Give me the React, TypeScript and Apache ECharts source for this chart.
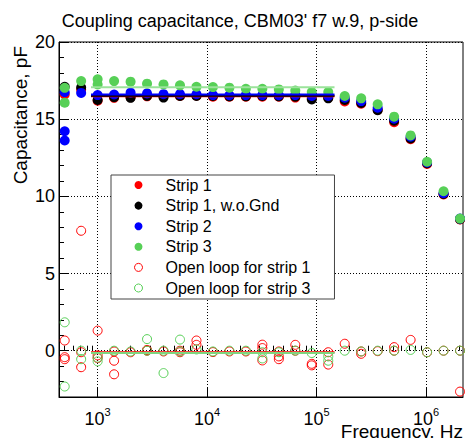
import React, { useEffect, useRef } from 'react';
import * as echarts from 'echarts';

// Frequencies (Hz) of the sweep
const freqs = [500, 707, 1000, 1414, 2000, 2828, 4000, 5657, 8000, 11314, 16000, 22627, 32000, 45255, 64000, 90510, 128000, 181019, 256000, 362039, 512000, 724077, 1024000, 1448155, 2048000];

// Capacitance, pF
const strip1 = [16.6, 16.9, 16.2, 16.38, 16.42, 16.48, 16.5, 16.5, 16.52, 16.45, 16.45, 16.45, 16.45, 16.45, 16.4, 16.35, 16.38, 16.15, 16.0, 15.6, 14.8, 13.7, 12.1, 10.12, 8.5];
const strip1Extra: [number, number][] = [];
const strip1NoGnd = [17.1, 17.05, 16.25, 16.42, 16.38, 16.5, 16.4, 16.5, 16.5, 16.5, 16.48, 16.48, 16.5, 16.48, 16.45, 16.28, 16.35, 16.25, 16.05, 15.58, 14.9, 13.75, 12.15, 10.15, 8.52];
const strip1NoGndExtra: [number, number][] = [];
const strip2 = [16.75, 16.7, 16.56, 16.6, 16.72, 16.67, 16.62, 16.62, 16.62, 16.56, 16.55, 16.56, 16.56, 16.55, 16.56, 16.5, 16.5, 16.39, 16.17, 15.74, 15.03, 13.86, 12.2, 10.2, 8.56];
const strip2Extra: [number, number][] = [[500, 14.22], [500, 13.62]];
const strip3 = [17.03, 17.47, 17.58, 17.47, 17.43, 17.3, 17.25, 17.19, 17.1, 17.08, 17.04, 16.97, 16.97, 16.93, 16.86, 16.76, 16.76, 16.5, 16.35, 15.96, 15.16, 13.95, 12.24, 10.33, 8.56];
const strip3Extra: [number, number][] = [[500, 16.07], [1000, 17.25]];

const openLoop1 = [0.66, -0.1, 1.3, -0.05, -0.1, 0.05, -0.05, 0.0, 0.66, -0.09, -0.05, -0.05, 0.39, -0.05, 0.38, -0.85, -0.1, 0.45, -0.05, -0.03, 0.23, 0.7, -0.1, 0.0, 0.0];
const openLoop1Extra: [number, number][] = [[500, -0.42], [500, -0.55], [707, -1.07], [707, 7.77], [1000, -0.3], [1000, -0.48], [1414, -0.65], [1414, -1.53], [2828, 0.0], [5657, -0.1], [8000, 0.38], [32000, 0.17], [32000, -0.63], [45255, -0.37], [45255, -0.55], [64000, 0.0], [90510, -0.95], [128000, -0.9], [256000, -0.2], [512000, 0.0], [2048000, -2.65]];
const openLoop3 = [1.84, 0.0, -0.69, 0.0, -0.05, 0.75, 0.0, 0.72, 0.08, -0.05, 0.0, 0.0, -0.1, -0.1, 0.0, -0.15, -0.37, 0.0, -0.05, 0.0, 0.0, 0.05, -0.1, 0.0, 0.0];
const openLoop3Extra: [number, number][] = [[500, -2.32], [707, -0.55], [1000, -0.45], [2828, 0.0], [4000, -1.45], [5657, -0.05], [32000, -0.5], [128000, -0.65]];

// Constant fits (pF) over the fit range (Hz)
const fitRange = [870, 146000];
const fitStrip1 = 16.48;
const fitStrip1NoGnd = 16.52;
const fitStrip2 = 16.6;
const fitStrip3 = 17.07;
const fitOpen1 = -0.1;
const fitOpen3 = -0.15;

const xDecades = [3, 4, 5, 6];
const yMajor = [0, 5, 10, 15, 20];
const yMinor = [-2, -1, 1, 2, 3, 4, 6, 7, 8, 9, 11, 12, 13, 14, 16, 17, 18, 19];
const freqMin = 443.6;
const freqMax = 2.18e6;

const FONT = 'Liberation Sans, Arial, Helvetica, sans-serif';
const lg = (f: number) => Math.log10(f);

function pts(main: number[], extra: [number, number][]) {
  return [
    ...freqs.map((f, i) => [lg(f), main[i]]),
    ...extra.map(([f, v]) => [lg(f), v]),
  ];
}

function fitLine(v: number) {
  return fitRange.map((f) => [lg(f), v]);
}

const xMinor: number[] = [];
for (let n = 2; n <= 6; n++) {
  for (let k = 2; k <= 9; k++) {
    const v = lg(k * Math.pow(10, n));
    if (v > lg(freqMin) && v < lg(freqMax)) xMinor.push(v);
  }
}

export default function App() {
  const ref = useRef<HTMLDivElement>(null);
  useEffect(() => {
    if (!ref.current) return;
    const chart = echarts.init(ref.current, null, { renderer: 'svg' });
    const RED = '#ff0000';
    const BLACK = '#000000';
    const BLUE = '#0000ff';
    const GREEN = '#57d057';
    const filled = (name: string, color: string, data: number[][]) => ({
      name, type: 'scatter', data, symbol: 'circle', symbolSize: 10,
      itemStyle: { color, opacity: 1 }, xAxisIndex: 0, yAxisIndex: 0,
    });
    const open = (name: string, color: string, data: number[][]) => ({
      name, type: 'scatter', data, symbol: 'circle', symbolSize: 9,
      itemStyle: { color: 'rgba(0,0,0,0)', borderColor: color, borderWidth: 1, opacity: 1 },
      xAxisIndex: 0, yAxisIndex: 0,
    });
    const fit = (name: string, color: string, v: number) => ({
      name, type: 'line', data: fitLine(v), showSymbol: false, symbol: 'none',
      lineStyle: { color, width: 2 }, xAxisIndex: 0, yAxisIndex: 0, silent: true,
    });
    const axisLineStyle = { color: '#000', width: 1 };
    const option: any = {
      animation: false,
      backgroundColor: '#fff',
      grid: { left: 59, right: 6, top: 42, bottom: 41, show: true, borderColor: '#000', borderWidth: 1, containLabel: false },
      xAxis: [
        {
          type: 'value', min: lg(freqMin), max: lg(freqMax), position: 'bottom',
          axisLine: { show: true, onZero: false, lineStyle: axisLineStyle },
          axisTick: { show: true, inside: true, length: 10, customValues: xDecades, lineStyle: axisLineStyle },
          axisLabel: {
            show: true, customValues: xDecades, margin: 9,
            formatter: (v: number) => `{b|10}{s|${Math.round(v)}}`,
            rich: {
              b: { fontSize: 18, fontFamily: FONT, color: '#000', lineHeight: 22, verticalAlign: 'bottom' },
              s: { fontSize: 11, fontFamily: FONT, color: '#000', lineHeight: 22, verticalAlign: 'top' },
            },
          },
          splitLine: { show: true, lineStyle: { color: '#000', width: 1, type: [1, 2] } },
        },
        {
          type: 'value', min: lg(freqMin), max: lg(freqMax), position: 'bottom',
          axisLine: { show: false },
          axisTick: { show: true, inside: true, length: 5, customValues: xMinor, lineStyle: axisLineStyle },
          axisLabel: { show: false },
          splitLine: { show: false },
        },
      ],
      yAxis: [
        {
          type: 'value', min: -3, max: 20, position: 'left',
          axisLine: { show: true, onZero: false, lineStyle: axisLineStyle },
          axisTick: { show: true, inside: true, length: 10, customValues: yMajor, lineStyle: axisLineStyle },
          axisLabel: { show: true, customValues: yMajor, margin: 4, fontSize: 18, fontFamily: FONT, color: '#000' },
          splitLine: { show: true, lineStyle: { color: '#000', width: 1, type: [1, 2] } },
        },
        {
          type: 'value', min: -3, max: 20, position: 'left',
          axisLine: { show: false },
          axisTick: { show: true, inside: true, length: 5, customValues: yMinor, lineStyle: axisLineStyle },
          axisLabel: { show: false },
          splitLine: { show: false },
        },
      ],
      legend: {
        data: [
          'Strip 1', 'Strip 1, w.o.Gnd', 'Strip 2', 'Strip 3',
          { name: 'Open loop for strip 1', itemStyle: { color: 'rgba(0,0,0,0)', borderColor: RED, borderWidth: 1 } },
          { name: 'Open loop for strip 3', itemStyle: { color: 'rgba(0,0,0,0)', borderColor: GREEN, borderWidth: 1 } },
        ],
        orient: 'vertical', left: 111, top: 175,
        itemWidth: 44, itemHeight: 8, itemGap: 4.6,
        padding: [2, 24, 3, 23],
        borderColor: '#444', borderWidth: 1, backgroundColor: '#fff',
        textStyle: { fontSize: 16, fontFamily: FONT, color: '#000' },
        selectedMode: false,
      },
      graphic: [
        { type: 'text', x: 240, y: 21, style: { text: "Coupling capacitance, CBM03' f7 w.9, p-side", fontSize: 18, fontFamily: FONT, fill: '#000', align: 'center', verticalAlign: 'middle' } },
        { type: 'text', x: 20, y: 46, rotation: Math.PI / 2, style: { text: 'Capacitance, pF', fontSize: 19, fontFamily: FONT, fill: '#000', align: 'right', verticalAlign: 'middle' } },
        { type: 'text', x: 463, y: 431, style: { text: 'Frequency, Hz', fontSize: 19, fontFamily: FONT, fill: '#000', align: 'right', verticalAlign: 'middle' } },
      ],
      series: [
        filled('Strip 1', RED, pts(strip1, strip1Extra)),
        fit('fit1', RED, fitStrip1),
        filled('Strip 1, w.o.Gnd', BLACK, pts(strip1NoGnd, strip1NoGndExtra)),
        fit('fit1b', BLACK, fitStrip1NoGnd),
        filled('Strip 2', BLUE, pts(strip2, strip2Extra)),
        fit('fit2', BLUE, fitStrip2),
        fit('fit3', '#9be39b', fitStrip3),
        filled('Strip 3', GREEN, pts(strip3, strip3Extra)),
        fit('fitO1', RED, fitOpen1),
        open('Open loop for strip 1', RED, pts(openLoop1, openLoop1Extra)),
        fit('fitO3', '#7fd67f', fitOpen3),
        open('Open loop for strip 3', GREEN, pts(openLoop3, openLoop3Extra)),
      ],
    };
    chart.setOption(option);
    return () => chart.dispose();
  }, []);
  return <div ref={ref} style={{ width: 469, height: 438, position: 'absolute', left: 0, top: 0 }} />;
}
